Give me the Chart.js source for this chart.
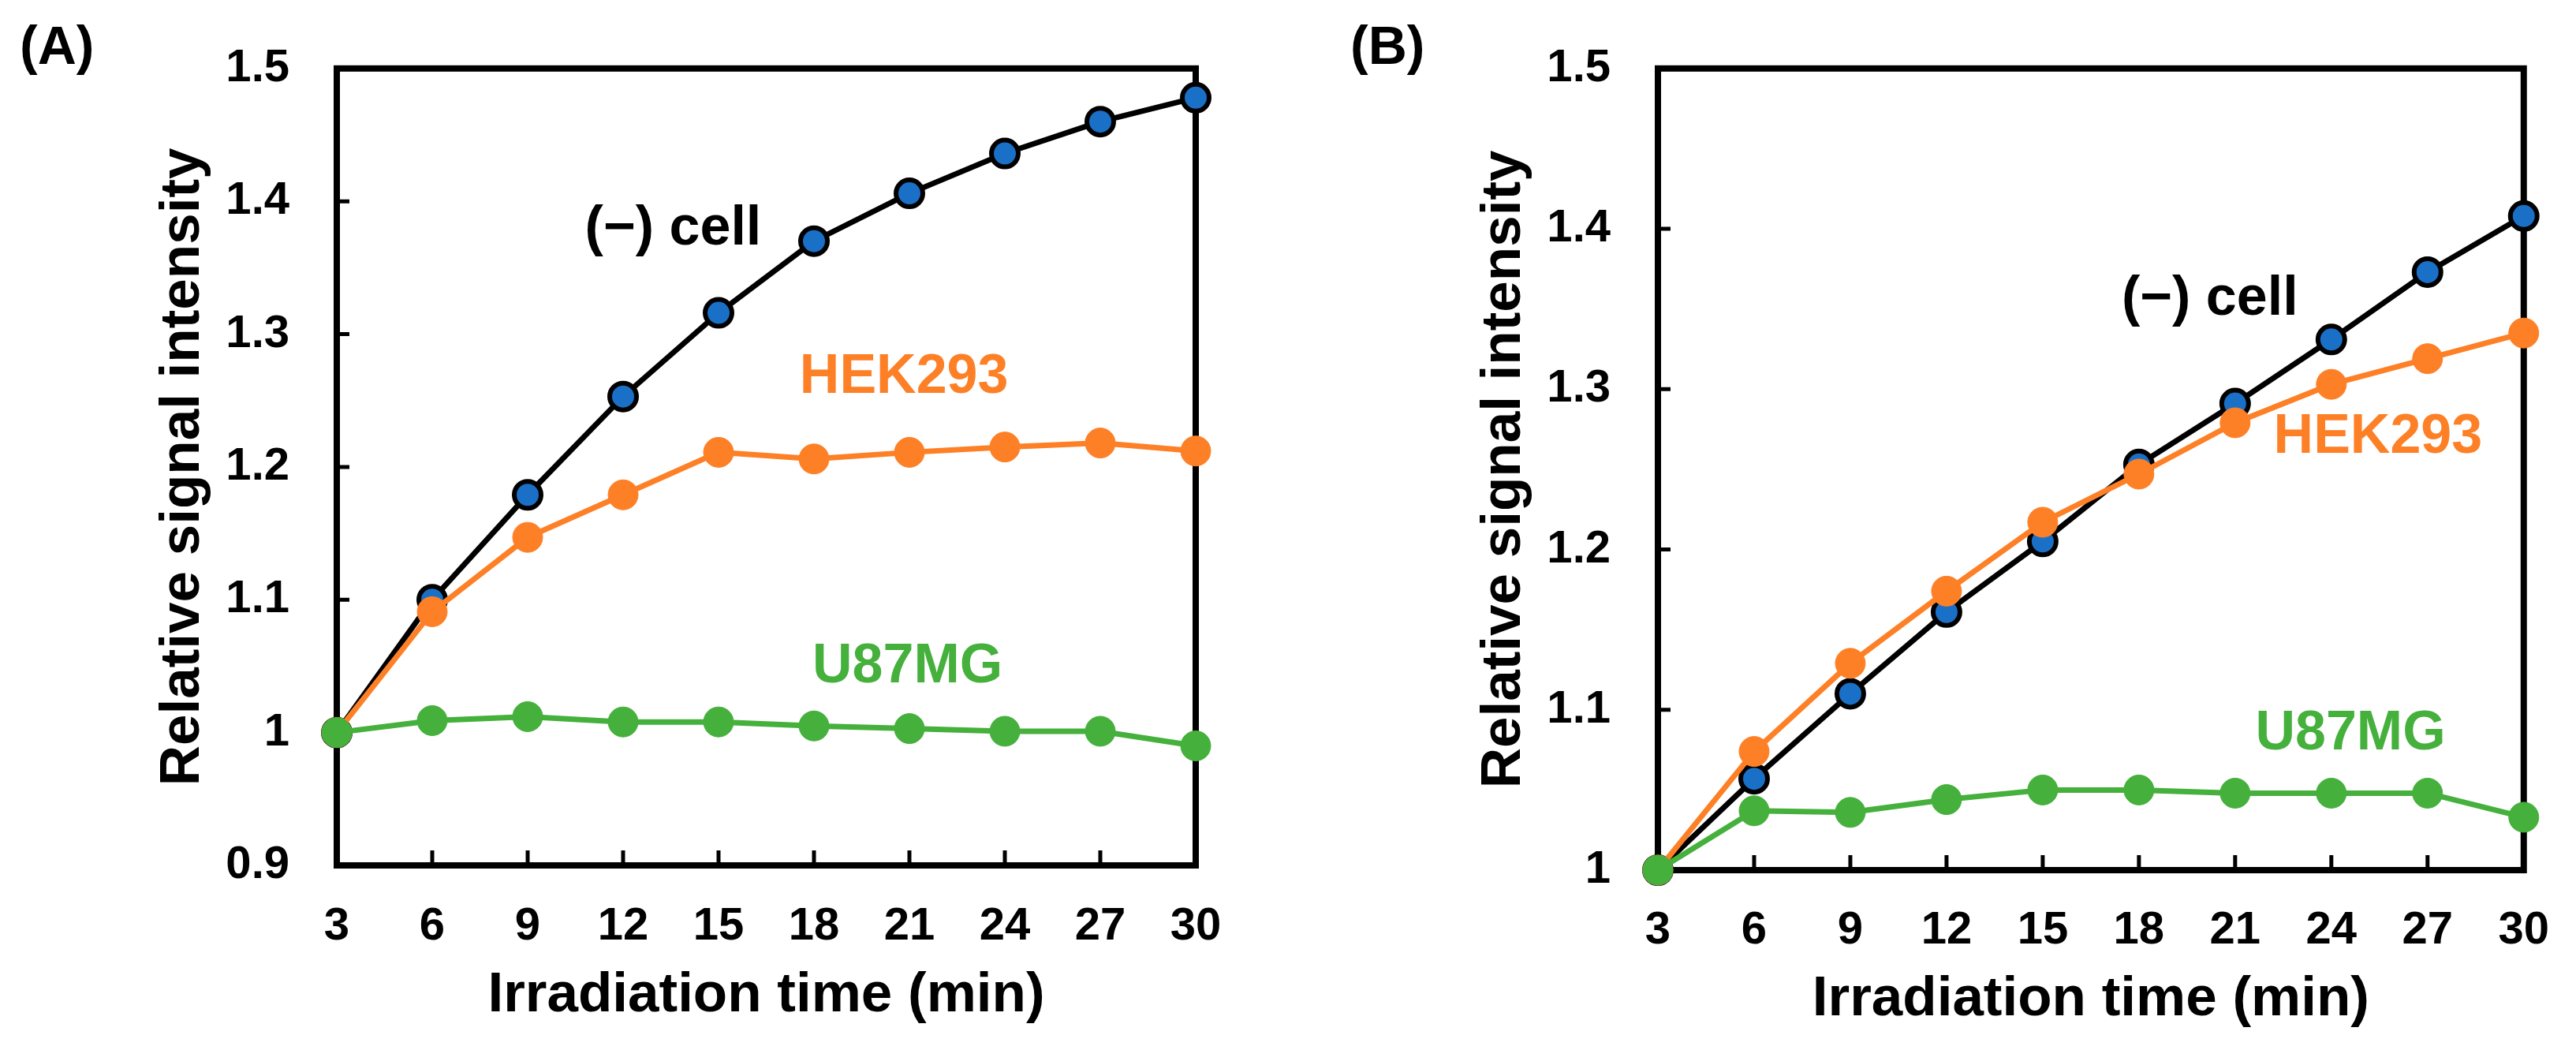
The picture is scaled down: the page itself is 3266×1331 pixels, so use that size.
<!DOCTYPE html>
<html>
<head>
<meta charset="utf-8">
<script src="https://cdn.jsdelivr.net/npm/chart.js@4"></script>
<style>
  html, body { margin:0; padding:0; background:#fff; }
  #wrap { position:relative; width:3266px; height:1331px; }
  canvas { position:absolute; top:0; }
  #chartA { left:0; }
  #chartB { left:1633px; }
</style>
</head>
<body>
<div id="wrap">
  <canvas id="chartA" width="1633" height="1331"></canvas>
  <canvas id="chartB" width="1633" height="1331"></canvas>
</div>
<script>
// irradiation times (min)
const times = [3, 6, 9, 12, 15, 18, 21, 24, 27, 30];

// panel A
const aCell = [1.000, 1.100, 1.179, 1.253, 1.316, 1.370, 1.406, 1.436, 1.460, 1.478];
const aHek  = [1.000, 1.091, 1.147, 1.179, 1.211, 1.206, 1.211, 1.215, 1.218, 1.212];
const aU87  = [1.000, 1.009, 1.012, 1.008, 1.008, 1.005, 1.003, 1.001, 1.001, 0.990];

// panel B
const bCell = [1.000, 1.057, 1.110, 1.161, 1.205, 1.253, 1.291, 1.331, 1.373, 1.408];
const bHek  = [1.000, 1.074, 1.129, 1.174, 1.217, 1.247, 1.279, 1.303, 1.319, 1.335];
const bU87  = [1.000, 1.037, 1.036, 1.044, 1.050, 1.050, 1.048, 1.048, 1.048, 1.033];

const seriesNames = ['(\u2212) cell', 'HEK293', 'U87MG'];
const yTicksA = [0.9, 1.5];
const yTicksB = [1.0, 1.5];

const FONT = '"Liberation Sans", Arial, "DejaVu Sans", sans-serif';
const BLUE = '#1a70c6', ORANGE = '#fd8027', GREEN = '#45b03c';

const pts = ys => ys.map((y, i) => ({ x: times[i], y }));

function datasets(cell, hek, u87) {
  // first dataset is drawn on top
  return [
    { label: seriesNames[2], data: pts(u87), borderColor: GREEN, backgroundColor: GREEN, borderWidth: 7,
      pointRadius: 19, pointBorderWidth: 1, pointBorderColor: GREEN, pointBackgroundColor: GREEN, clip: false },
    { label: seriesNames[1], data: pts(hek), borderColor: ORANGE, backgroundColor: ORANGE, borderWidth: 7,
      pointRadius: 19, pointBorderWidth: 1, pointBorderColor: ORANGE, pointBackgroundColor: ORANGE, clip: false },
    { label: seriesNames[0], data: pts(cell), borderColor: '#000', backgroundColor: BLUE, borderWidth: 7,
      pointRadius: 17, pointBorderWidth: 6, pointBorderColor: '#000', pointBackgroundColor: BLUE, clip: false }
  ];
}

// frame + inward ticks, drawn under the data
const framePlugin = {
  id: 'frame',
  beforeDatasetsDraw(chart) {
    const { ctx, chartArea: a, scales: { x, y } } = chart;
    ctx.save();
    ctx.strokeStyle = '#000';
    ctx.lineWidth = 5;
    ctx.beginPath();
    x.ticks.forEach(t => { const px = x.getPixelForValue(t.value); ctx.moveTo(px, a.bottom); ctx.lineTo(px, a.bottom - 19); });
    y.ticks.forEach(t => { const py = y.getPixelForValue(t.value); ctx.moveTo(a.left, py); ctx.lineTo(a.left + 16, py); });
    ctx.stroke();
    ctx.lineWidth = 8;
    ctx.strokeRect(a.left, a.top, a.right - a.left, a.bottom - a.top);
    ctx.restore();
  }
};

// series names and panel letter
const labelPlugin = {
  id: 'labels',
  afterDatasetsDraw(chart, args, opts) {
    const { ctx, scales: { x, y } } = chart;
    ctx.save();
    ctx.font = 'bold 70px ' + FONT;
    ctx.textBaseline = 'middle';
    ctx.textAlign = 'left';
    opts.notes.forEach(n => {
      ctx.fillStyle = n.color;
      ctx.fillText(n.text, x.getPixelForValue(n.x), y.getPixelForValue(n.y));
    });
    ctx.fillStyle = '#000';
    ctx.font = 'bold 68px ' + FONT;
    ctx.fillText(opts.panel, opts.panelX, 62);
    ctx.restore();
  }
};

function makeChart(id, ds, yRange, box, notes, panel, panelX) {
  return new Chart(document.getElementById(id), {
    type: 'line',
    data: { datasets: ds },
    plugins: [framePlugin, labelPlugin],
    options: {
      responsive: false,
      animation: false,
      devicePixelRatio: 1,
      layout: { padding: { left: 0, right: box.right, top: box.top, bottom: 0 } },
      elements: { line: { tension: 0 } },
      plugins: {
        legend: { display: false },
        tooltip: { enabled: false },
        labels: { notes, panel, panelX }
      },
      scales: {
        x: {
          type: 'linear', min: times[0], max: times[times.length - 1],
          grid: { display: false }, border: { display: false },
          afterFit: s => { s.height = box.xh; },
          ticks: { stepSize: 3, autoSkip: false, padding: box.xpad, color: '#000', font: { family: FONT, size: 58, weight: 'bold' } },
          title: { display: true, text: 'Irradiation time (min)', color: '#000', padding: { bottom: box.xtp },
                   font: { family: FONT, size: 71, weight: 'bold' } }
        },
        y: {
          min: yRange[0], max: yRange[1],
          grid: { display: false }, border: { display: false },
          afterFit: s => { s.width = box.yw; },
          ticks: { stepSize: 0.1, padding: 52, color: '#000', font: { family: FONT, size: 58, weight: 'bold' },
                   callback: v => String(+v.toFixed(1)) },
          title: { display: true, text: 'Relative signal intensity', color: '#000', padding: { top: box.ytp },
                   font: { family: FONT, size: 71, weight: 'bold' } }
        }
      }
    }
  });
}

makeChart('chartA', datasets(aCell, aHek, aU87), yTicksA,
  { right: 117, top: 60, xh: 234, yw: 427, xpad: 35, xtp: 26, ytp: 190 },
  [ { text: seriesNames[0], color: '#000', x: 10.8, y: 1.379 },
    { text: seriesNames[1], color: ORANGE, x: 17.55, y: 1.267 },
    { text: seriesNames[2], color: GREEN, x: 17.95, y: 1.049 } ],
  '(A)', 25);

makeChart('chartB', datasets(bCell, bHek, bU87), yTicksB,
  { right: 64, top: 59, xh: 228, yw: 469, xpad: 34, xtp: 21, ytp: 232 },
  [ { text: seriesNames[0], color: '#000', x: 17.46, y: 1.356 },
    { text: seriesNames[1], color: ORANGE, x: 22.2, y: 1.270 },
    { text: seriesNames[2], color: GREEN, x: 21.63, y: 1.085 } ],
  '(B)', 79);
</script>
</body>
</html>
